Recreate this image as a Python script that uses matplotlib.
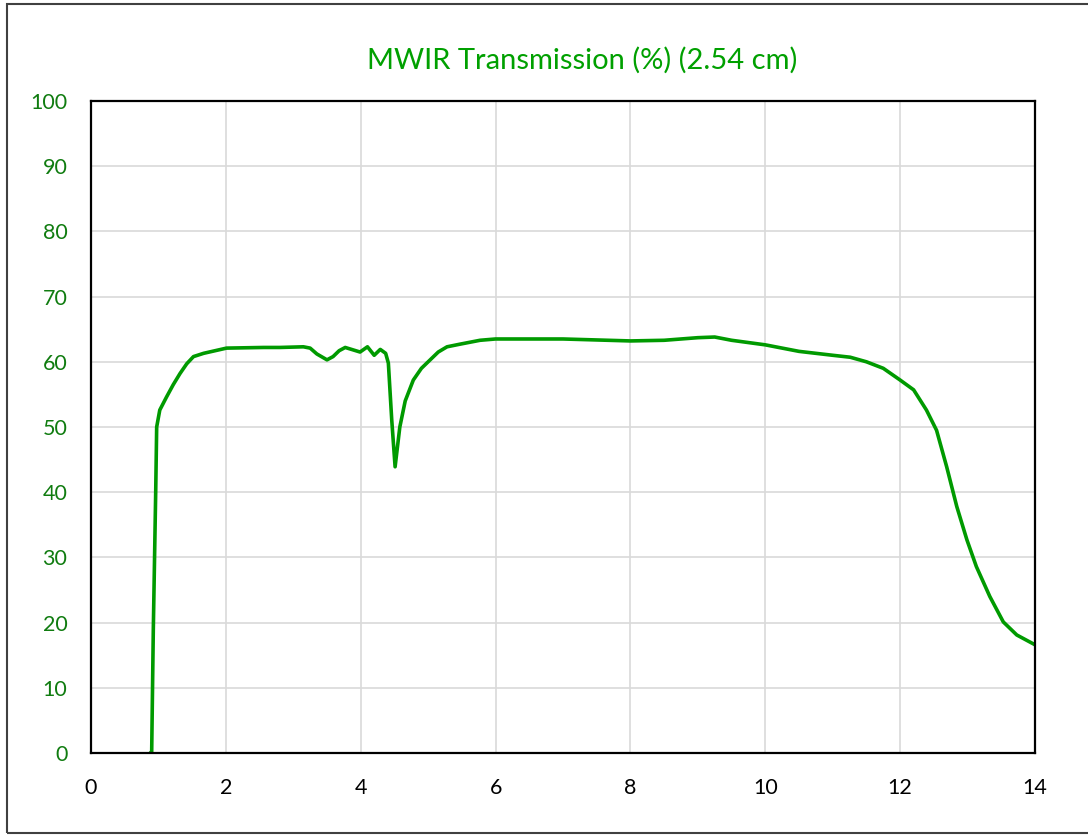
import matplotlib
matplotlib.use("Agg")
import matplotlib.pyplot as plt
from matplotlib.patches import Rectangle

wavelength = [0.88, 0.90, 0.924, 0.96, 0.974, 1.02, 1.12, 1.22, 1.32, 1.42, 1.52, 1.67, 2.01, 2.56,
              2.80, 3.15, 3.25, 3.35, 3.50, 3.59, 3.68, 3.77, 3.99, 4.10, 4.20, 4.29, 4.37,
              4.41, 4.46, 4.51, 4.58, 4.66, 4.78, 4.90, 5.03, 5.15, 5.28, 5.47, 5.77, 6.0, 7.0, 8.0,
              8.5, 9.0, 9.25, 9.5, 10.0, 10.5, 11.0, 11.26, 11.5, 11.75, 12.0, 12.2,
              12.39, 12.54, 12.69, 12.84, 12.99, 13.13, 13.33, 13.53, 13.73, 14.0]
transmission = [0.0, 0.2, 18.9, 40.3, 50.0, 52.6, 54.6, 56.5, 58.2, 59.7, 60.8, 61.3, 62.1, 62.2,
                62.2, 62.3, 62.1, 61.2, 60.3, 60.8, 61.7, 62.2, 61.5, 62.3, 61.0, 61.9, 61.3,
                59.8, 51.1, 43.9, 50.0, 54.0, 57.2, 59.0, 60.3, 61.5, 62.3, 62.7, 63.3, 63.5, 63.5, 63.2,
                63.3, 63.7, 63.8, 63.3, 62.6, 61.6, 61.0, 60.7, 60.0, 59.0, 57.2, 55.7,
                52.6, 49.5, 43.9, 37.8, 32.7, 28.6, 24.0, 20.1, 18.1, 16.6]

x_ticks = [0, 2, 4, 6, 8, 10, 12, 14]
y_ticks = [0, 10, 20, 30, 40, 50, 60, 70, 80, 90, 100]

LINE = "#009A00"
TITLE = "#00A000"
YLAB = "#107C10"
GRID = "#D9D9D9"

plt.rcParams["font.family"] = ["Lato", "DejaVu Sans"]

fig = plt.figure(figsize=(10.88, 8.36), dpi=100)
ax = fig.add_axes([91 / 1088, 1 - 753 / 836, (1035 - 91) / 1088, (753 - 101) / 836])

ax.plot(wavelength, transmission, color=LINE, linewidth=2.6,
        solid_capstyle="round", solid_joinstyle="round")

ax.set_xlim(0, 14)
ax.set_ylim(0, 100)
ax.set_xticks(x_ticks)
ax.set_yticks(y_ticks)
ax.grid(True, color=GRID, linewidth=1.2)
ax.set_axisbelow(True)
ax.tick_params(axis="both", length=0, labelsize=15.5)
ax.tick_params(axis="x", pad=18, colors="black")
ax.tick_params(axis="y", pad=17, labelcolor=YLAB)
for s in ax.spines.values():
    s.set_color("black")
    s.set_linewidth(1.6)

fig.text(582 / 1088, 1 - 60 / 836, "MWIR Transmission (%) (2.54 cm)", fontsize=21,
         color=TITLE, ha="center", va="center")

fig.patches.append(Rectangle((7 / 1088, 3 / 836), 1.1, (833 - 4) / 836, transform=fig.transFigure,
                             fill=False, edgecolor="#404040", linewidth=1.5))

fig.savefig("out.png", dpi=100, facecolor="white")
